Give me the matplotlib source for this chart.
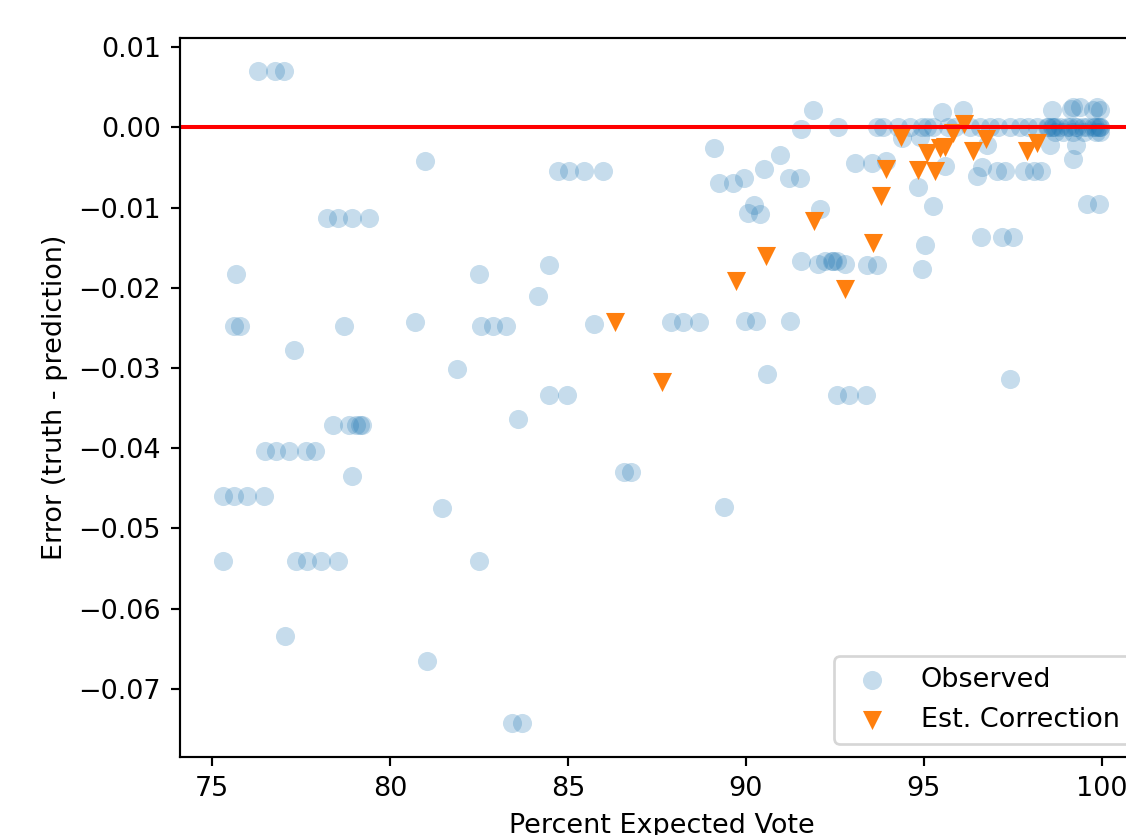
import numpy as np
import matplotlib
matplotlib.use('Agg')
import matplotlib.pyplot as plt

# observed errors (percent expected vote, error)
obs_x = [76.28, 76.77, 77.02, 80.98,
         78.23, 78.54, 78.93, 79.41, 75.67, 82.50,
         75.62, 75.79, 78.70, 80.70, 82.56, 82.89, 83.26,
         77.30, 81.88,
         78.40, 78.85, 79.05, 79.15, 79.22,
         76.49, 76.79, 77.16, 77.63, 77.89, 78.94,
         75.32, 75.62, 75.99, 76.47, 81.47,
         75.32, 77.37, 77.67, 78.05, 78.54, 82.51,
         77.06, 81.05, 83.44, 83.72,
         84.73, 85.03, 85.46, 85.99, 84.47, 84.15, 85.73,
         87.91, 88.24, 88.68, 89.98, 90.28, 91.23, 90.60,
         84.46, 84.97, 83.59, 86.59, 86.78, 89.39,
         89.10, 89.24, 89.64, 89.94, 90.51, 90.96, 91.21, 91.51,
         90.05, 90.22, 90.40, 91.56, 92.55, 92.90, 93.37, 97.42,
         91.90, 91.55, 92.60, 93.69, 92.08,
         93.07, 93.54, 93.94, 94.84, 95.27, 95.60, 96.49, 96.63,
         97.06, 97.29, 97.83, 98.11, 98.30,
         96.77, 98.55, 99.29, 99.18, 94.38, 94.89,
         99.58, 99.92, 96.62, 97.20, 97.52, 95.03, 94.94,
         92.04, 92.22, 92.41, 92.45, 92.55, 92.79, 93.40, 93.69,
         95.50, 96.11, 98.59, 99.20, 99.39, 99.86, 99.95, 99.15, 99.76,
         93.86, 94.27, 94.61, 94.94, 95.08, 95.26, 95.68, 95.88, 96.30,
         96.58, 96.86, 97.08, 97.42, 97.70, 97.93, 98.18, 98.46, 98.63,
         98.83, 99.02, 99.24, 99.47, 99.75, 99.95,
         98.50, 98.60, 98.70, 99.10, 99.30, 99.60, 99.80, 99.90, 99.95,
         98.70, 98.90, 99.20, 99.50, 99.85, 99.95]
obs_y = [0.0070, 0.0070, 0.0070, -0.0042,
         -0.0113, -0.0113, -0.0113, -0.0113, -0.0183, -0.0183,
         -0.0248, -0.0248, -0.0248, -0.0243, -0.0248, -0.0248, -0.0248,
         -0.0278, -0.0301,
         -0.0371, -0.0371, -0.0371, -0.0371, -0.0371,
         -0.0403, -0.0403, -0.0403, -0.0403, -0.0403, -0.0435,
         -0.0460, -0.0460, -0.0460, -0.0460, -0.0474,
         -0.0540, -0.0540, -0.0540, -0.0540, -0.0540, -0.0540,
         -0.0634, -0.0665, -0.0743, -0.0743,
         -0.0054, -0.0054, -0.0054, -0.0054, -0.0171, -0.0210, -0.0245,
         -0.0243, -0.0243, -0.0243, -0.0241, -0.0241, -0.0242, -0.0307,
         -0.0334, -0.0334, -0.0364, -0.0430, -0.0430, -0.0473,
         -0.0026, -0.0069, -0.0069, -0.0063, -0.0052, -0.0034, -0.0063, -0.0063,
         -0.0107, -0.0097, -0.0108, -0.0167, -0.0334, -0.0334, -0.0334, -0.0314,
         0.0022, -0.0002, 0.0, 0.0, -0.0102,
         -0.0044, -0.0044, -0.0042, -0.0074, -0.0098, -0.0048, -0.0061, -0.0049,
         -0.0054, -0.0054, -0.0054, -0.0054, -0.0054,
         -0.0022, -0.0022, -0.0022, -0.0040, -0.0013, -0.0012,
         -0.0096, -0.0096, -0.0137, -0.0137, -0.0137, -0.0147, -0.0177,
         -0.0170, -0.0167, -0.0167, -0.0167, -0.0167, -0.0170, -0.0172, -0.0172,
         0.0019, 0.0022, 0.0022, 0.0025, 0.0025, 0.0025, 0.0022, 0.0023, 0.0022,
         0.0, 0.0, 0.0, 0.0, 0.0, 0.0, 0.0, 0.0, 0.0,
         0.0, 0.0, 0.0, 0.0, 0.0, 0.0, 0.0, 0.0, 0.0,
         0.0, 0.0, 0.0, 0.0, 0.0, 0.0,
         0.0, 0.0, 0.0, 0.0, 0.0, 0.0, 0.0, 0.0, 0.0,
         -0.0006, -0.0006, -0.0006, -0.0006, -0.0006, -0.0006]

# estimated corrections
est_x = [86.32, 87.64, 89.71, 90.57, 91.92, 92.79, 93.58, 93.81, 93.94,
         94.35, 94.85, 95.08, 95.31, 95.46, 95.60, 95.83, 96.13, 96.37,
         96.75, 97.89, 98.19]
est_y = [-0.0243, -0.0318, -0.0191, -0.0161, -0.0117, -0.0201, -0.0144,
         -0.0086, -0.0052, -0.0012, -0.0053, -0.0032, -0.0055, -0.0026,
         -0.0024, -0.0007, 0.0004, -0.0029, -0.0015, -0.0030, -0.0020]

dpi = 194.4
fig = plt.figure(figsize=(1126 / dpi, 835 / dpi), dpi=dpi)
# axes extends past the right edge, like the reference crop
ax = fig.add_axes([180 / 1126, 78 / 835, 963.7 / 1126, 719 / 835])

ax.scatter(obs_x, obs_y, s=50, alpha=0.25, color='C0', linewidths=0,
           label='Observed')
ax.scatter(est_x, est_y, s=50, marker='v', color='C1', linewidths=0,
           label='Est. Correction')
ax.axhline(0, color='red', lw=1.5)

ax.set_xlim(74.10, 101.18)
ax.set_ylim(-0.07848, 0.01113)
ax.set_xticks([75, 80, 85, 90, 95, 100])
ax.set_xlabel('Percent Expected Vote')
ax.set_ylabel('Error (truth - prediction)')
ax.legend(loc='lower right')

fig.savefig('out.png', dpi=dpi)
